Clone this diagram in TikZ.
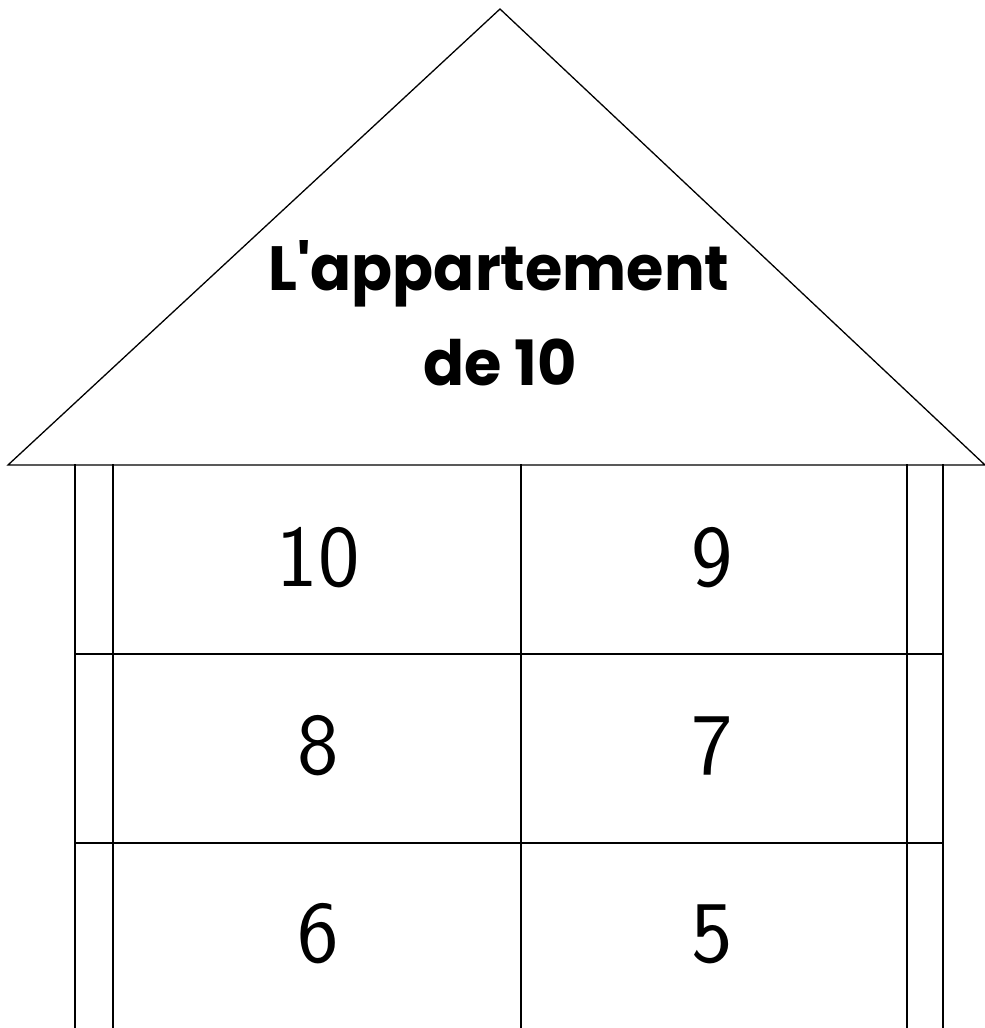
\documentclass[tikz,border=0pt]{standalone}
\usepackage{fontspec}
\usepackage{graphicx}
\newfontfamily\titlefont{Poppins}
\tikzset{
  wall/.style={line width=1.6pt, line cap=rect},
  roof/.style={line width=1.3pt, line join=miter},
  num/.style={font=\sffamily\fontsize{88}{88}\selectfont, inner sep=0pt},
  ttl/.style={font=\titlefont\bfseries\fontsize{50}{50}\selectfont, inner sep=0pt}
}
\begin{document}
\begin{tikzpicture}[x=1pt,y=-1pt]
\useasboundingbox (0,0) rectangle (985,1028);
% roof
\coordinate (apex) at (500,9);
\coordinate (rl) at (8,465);
\coordinate (rr) at (985,465);
\draw[roof] (rl) -- (apex) -- (rr) -- cycle;
% posts
\foreach \x/\n in {75/a,113/b,521/c,907/d,943/e}{
  \coordinate (t\n) at (\x,465);
  \coordinate (b\n) at (\x,1030);
  \draw[wall] (t\n) -- (b\n);
}
% floors
\coordinate (f1l) at (75,654); \coordinate (f1r) at (943,654);
\coordinate (f2l) at (75,843); \coordinate (f2r) at (943,843);
\draw[wall] (f1l) -- (f1r);
\draw[wall] (f2l) -- (f2r);
% title
\node[ttl] (t1) at (499,274) {\scalebox{1.21}[1.25]{L'appartement}};
\node[ttl] (t2) at (500,362) {\scalebox{1.21}[1.25]{de 10}};
% numbers
\node[num] (n10) at (318,558) {10};
\node[num] (n9) at (712,558) {9};
\node[num] (n8) at (318,746) {8};
\node[num] (n7) at (712,746) {7};
\node[num] (n6) at (318,934) {6};
\node[num] (n5) at (712,934) {5};
\end{tikzpicture}
\end{document}
